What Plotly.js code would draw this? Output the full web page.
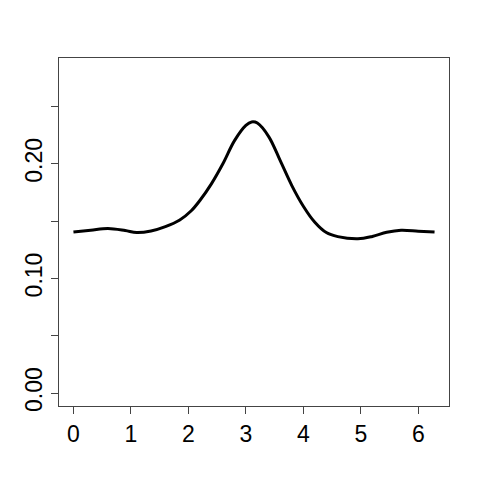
<!DOCTYPE html>
<html>
<head>
<meta charset="utf-8">
<script src="https://cdn.plot.ly/plotly-3.0.1.min.js"></script>
<style>html,body{margin:0;padding:0;background:#fff;}#chart{width:480px;height:480px;}</style>
</head>
<body>
<div id="chart"></div>
<script>
const xValues = [0, 0.3, 0.6, 0.9, 1.1, 1.35, 1.6, 1.85, 2.05, 2.2, 2.4, 2.6, 2.8, 3.0, 3.1, 3.2, 3.4, 3.6, 3.8, 4.0, 4.2, 4.4, 4.6, 4.95, 5.2, 5.45, 5.7, 6.0, 6.283];
const yValues = [0.1404, 0.1420, 0.1436, 0.1418, 0.1400, 0.1414, 0.1452, 0.1510, 0.1590, 0.1680, 0.1825, 0.2000, 0.2200, 0.2335, 0.2365, 0.2355, 0.2235, 0.2025, 0.1810, 0.1630, 0.1490, 0.1400, 0.1365, 0.1346, 0.1366, 0.1402, 0.1420, 0.1412, 0.1404];
const xTickVals = [0, 1, 2, 3, 4, 5, 6];
const xTickText = ["0", "1", "2", "3", "4", "5", "6"];
const yTickVals = [0, 0.05, 0.10, 0.15, 0.20, 0.25];
const yTickText = ["0.00", "", "0.10", "", "0.20", ""];

const font = {family: "Liberation Sans, Arial, sans-serif", size: 23, color: "#000"};
Plotly.newPlot("chart", [{
  x: xValues, y: yValues, type: "scatter", mode: "lines",
  line: {color: "#000", width: 3, shape: "spline", smoothing: 1}
}], {
  width: 480, height: 480,
  margin: {l: 59, r: 31, t: 58, b: 74, pad: 0},
  paper_bgcolor: "#fff", plot_bgcolor: "#fff",
  showlegend: false,
  font: font,
  xaxis: {range: [-0.2513, 6.5345], tickvals: xTickVals, ticktext: xTickText,
    ticks: "outside", ticklen: 7, tickcolor: "#444", showgrid: false, zeroline: false,
    showline: true, mirror: true, linecolor: "#444", linewidth: 1, tickfont: font},
  yaxis: {range: [-0.01124, 0.29224], tickvals: yTickVals, ticktext: yTickText,
    ticks: "outside", ticklen: 7, tickcolor: "#444", showgrid: false, zeroline: false,
    showline: true, mirror: true, linecolor: "#444", linewidth: 1, tickangle: -90, tickfont: font}
}, {staticPlot: true});
</script>
</body>
</html>
